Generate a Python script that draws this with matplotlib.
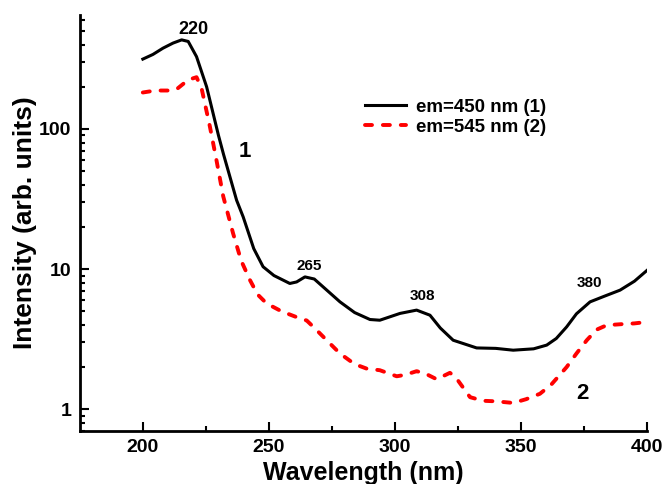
"""Excitation spectra for the two emission wavelengths, log intensity scale."""

import numpy as np
import matplotlib
matplotlib.use("Agg")
import matplotlib.pyplot as plt
from matplotlib.ticker import LogLocator, FixedLocator, NullFormatter

plt.rcParams["font.family"] = ["Liberation Sans", "DejaVu Sans"]
plt.rcParams["font.weight"] = "bold"

# em = 450 nm (curve 1)
wl_450 = [200, 204, 208, 212, 215.4, 218, 221.3, 225.3, 230, 232, 237.2, 239.8,
          244, 247.7, 252, 258.3, 261, 264.3, 268, 278.2, 284, 290.1, 294, 302,
          308.6, 313.9, 318, 323.1, 332.4, 340, 346.9, 355, 360.2, 364, 368.1,
          372, 377.4, 383, 389.3, 395, 400]
int_450 = [315, 340, 377, 410, 432, 421, 328, 200, 90, 66, 31, 23.6,
           14, 10.4, 9.0, 7.9, 8.1, 8.8, 8.5, 5.84, 4.9, 4.37, 4.32, 4.83,
           5.1, 4.69, 3.8, 3.11, 2.74, 2.72, 2.64, 2.7, 2.87, 3.2, 3.87,
           4.8, 5.84, 6.4, 7.08, 8.2, 9.8]

# em = 545 nm (curve 2)
wl_545 = [200, 205, 210, 213.4, 218, 221.3, 223.3, 226.6, 229.2, 231.9, 235.8,
          239, 242.5, 245.5, 249.1, 255, 262.3, 265, 268.3, 273, 278.2, 284,
          288.8, 294, 300.7, 304, 308.6, 312, 316.5, 319, 321.8, 324, 329.8,
          335, 340, 346.9, 352, 357.5, 362, 368.1, 372, 376.1, 380, 384, 390,
          395, 400]
int_545 = [182, 188, 188, 192, 224, 234, 195, 104, 60, 33, 18,
           11.5, 8.35, 6.6, 5.69, 5.0, 4.45, 4.3, 3.77, 3.1, 2.5, 2.1,
           1.95, 1.9, 1.72, 1.76, 1.87, 1.8, 1.64, 1.72, 1.82, 1.7, 1.22,
           1.15, 1.14, 1.11, 1.18, 1.29, 1.5, 2.0, 2.5, 3.11, 3.7, 3.98, 4.05,
           4.1, 4.2]

# peak labels: (text, x, y, size)
peak_labels = [("220", 220.2, 510, 13), ("265", 265.9, 10.5, 11),
               ("308", 311.1, 6.4, 11), ("380", 377.0, 7.94, 11)]
curve_labels = [("1", 240.5, 68.5), ("2", 374.2, 1.30)]


def main():
    fig = plt.figure(figsize=(6.65, 4.84), dpi=100)
    ax = fig.add_axes([0.120, 0.1095, 0.853, 0.8595])

    ax.plot(wl_450, int_450, color="black", lw=2.2, label="em=450 nm (1)")
    ax.plot(wl_545, int_545, color="red", lw=2.8, dashes=(1.8, 2.8),
            dash_capstyle="round", label="em=545 nm (2)")

    ax.set_yscale("log")
    ax.set_xlim(175, 400)
    ax.set_ylim(0.7, 650)

    ax.set_xticks([200, 250, 300, 350, 400])
    ax.xaxis.set_minor_locator(FixedLocator([225, 275, 325, 375]))
    ax.yaxis.set_major_locator(FixedLocator([1, 10, 100]))
    ax.yaxis.set_major_formatter(plt.FuncFormatter(lambda v, p: f"{v:g}"))
    ax.yaxis.set_minor_locator(LogLocator(base=10, subs=np.arange(2, 10)))
    ax.yaxis.set_minor_formatter(NullFormatter())

    for side in ["top", "right"]:
        ax.spines[side].set_visible(False)
    for side in ["left", "bottom"]:
        ax.spines[side].set_linewidth(2)

    ax.tick_params(which="major", direction="in", length=6.5, width=1.5,
                   labelsize=14, pad=6)
    ax.tick_params(which="minor", direction="in", length=3.6, width=1.5)
    for lbl in ax.get_xticklabels() + ax.get_yticklabels():
        lbl.set_fontweight("bold")

    ax.set_xlabel("Wavelength (nm)", fontsize=18, fontweight="bold", labelpad=3)
    ax.set_ylabel("Intensity (arb. units)", fontsize=19, fontweight="bold",
                  labelpad=1.5)

    for txt, x, y, size in peak_labels:
        ax.text(x, y, txt, fontsize=size, fontweight="bold",
                ha="center", va="center")
    for txt, x, y in curve_labels:
        ax.text(x, y, txt, fontsize=16, fontweight="bold",
                ha="center", va="center")

    ax.legend(loc="center left", bbox_to_anchor=(0.503, 0.754), frameon=False,
              prop={"size": 13.5, "weight": "bold"}, handlelength=2.2,
              handletextpad=0.5, borderpad=0, borderaxespad=0,
              labelspacing=0.15)

    fig.savefig("out.png", dpi=100)
    plt.close(fig)


if __name__ == "__main__":
    main()
